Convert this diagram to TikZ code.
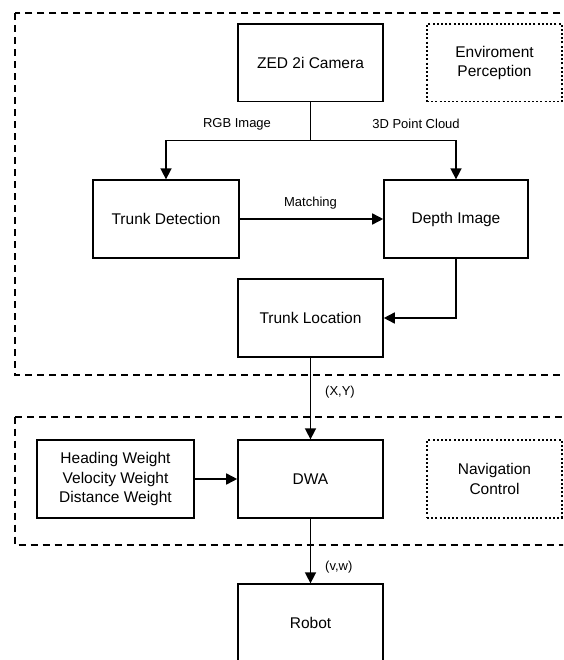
\documentclass[tikz,border=0pt]{standalone}
\usepackage{fontspec}
\setmainfont{Liberation Sans}
\usetikzlibrary{arrows.meta}
\begin{document}
\begin{tikzpicture}[x=1pt,y=-1pt,
  stepbox/.style={draw, line width=1.6pt, minimum width=145pt, minimum height=77.7pt,
    align=center, inner sep=0pt, font=\fontsize{15.5}{19.6}\selectfont},
  notebox/.style={stepbox, dash pattern=on 2pt off 2.2pt, minimum width=135pt},
  groupbox/.style={draw, line width=1.6pt, dash pattern=on 7pt off 5pt},
  conn/.style={line width=1.6pt, -{Triangle[length=11pt,width=11pt]}},
  plain/.style={line width=1.6pt},
  lbl/.style={font=\fontsize{13}{15}\selectfont, inner sep=0pt}]
\useasboundingbox (0,0) rectangle (563,660);
\clip (0,0) rectangle (563,660);
\fill[white] (0,0) rectangle (563,660);
% group frames
\draw[groupbox] (15,13.3) rectangle (610,375);
\draw[groupbox] (15,416.7) rectangle (610,545);
% nodes
\node[stepbox] (cam) at (310.5,62.8) {ZED 2i Camera};
\node[notebox] (env) at (494.5,62.8) {Enviroment\\Perception};
\node[stepbox, minimum width=146pt] (td) at (166,219) {Trunk Detection};
\node[stepbox, minimum width=144pt] (di) at (456,219) {Depth Image};
\node[stepbox] (tl) at (310.5,318) {Trunk Location};
\node[stepbox, minimum width=157pt] (hw) at (115.5,479) {Heading Weight\\Velocity Weight\\Distance Weight};
\node[stepbox] (dwa) at (310.5,479) {DWA};
\node[notebox] (nc) at (494.5,479) {Navigation\\Control};
\node[stepbox] (robot) at (310.5,623) {Robot};
% connectors
\coordinate (split) at (310.5,140.7);
\draw[plain] (cam.south) -- (split);
\draw[conn] (split) -| (td.north);
\draw[conn] (split) -| (di.north);
\draw[conn] (td.east) -- (di.west);
\draw[conn] (di.south) |- (tl.east);
\draw[conn] (tl.south) -- (dwa.north);
\draw[conn] (hw.east) -- (dwa.west);
\draw[conn] (dwa.south) -- (robot.north);
% labels
\node[lbl] (l1) at (237,124) {RGB Image};
\node[lbl] (l2) at (416,124) {3D Point Cloud};
\node[lbl] (l3) at (310.5,202.7) {Matching};
\node[lbl, anchor=west] (l4) at (325,391.7) {(X,Y)};
\node[lbl, anchor=west] (l5) at (325,567.3) {(v,w)};
\end{tikzpicture}
\end{document}
